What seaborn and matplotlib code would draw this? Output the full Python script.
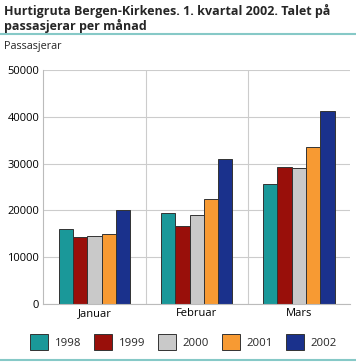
import pandas as pd
import matplotlib.pyplot as plt
import seaborn as sns
from matplotlib.lines import Line2D
from matplotlib.patches import Patch

sns.set_theme(style="white")
plt.rcParams['font.family'] = ['Open Sans', 'DejaVu Sans']

months = ['Januar', 'Februar', 'Mars']
years = ['1998', '1999', '2000', '2001', '2002']
passengers = {
    '1998': [15950, 19400, 25550],
    '1999': [14250, 16600, 29200],
    '2000': [14450, 19100, 29000],
    '2001': [14900, 22450, 33450],
    '2002': [20000, 30950, 41150],
}
colors = ['#1a9899', '#990f0a', '#c9c9c9', '#f79a33', '#1a318c']

rows = []
for y in years:
    for m, v in zip(months, passengers[y]):
        rows.append({'Månad': m, 'År': y, 'Passasjerar': v})
df = pd.DataFrame(rows)

fig = plt.figure(figsize=(3.56, 3.62), dpi=100)
ax = fig.add_axes([0.122, 0.160, 0.861, 0.647])

sns.barplot(data=df, x='Månad', y='Passasjerar', hue='År', palette=colors,
            saturation=1, width=0.7, edgecolor='#333333', linewidth=0.7,
            ax=ax, legend=False)

ax.set_ylim(0, 50000)
ax.set_xlim(-0.5, 2.5)
ax.set_yticks(range(0, 50001, 10000))
ax.set_xticks([0.5, 1.5], minor=True)
ax.grid(axis='y', color='#cccccc', linewidth=0.8)
ax.grid(axis='x', which='minor', color='#cccccc', linewidth=0.8)
ax.set_axisbelow(True)
for s in ['top', 'right']:
    ax.spines[s].set_visible(False)
for s in ['left', 'bottom']:
    ax.spines[s].set_color('#bbbbbb')
    ax.spines[s].set_linewidth(0.8)
ax.tick_params(axis='both', labelsize=8, length=0, pad=3, colors='#000000')
ax.set_xlabel('')
ax.set_ylabel('')

fig.text(0.012, 0.988, 'Hurtigruta Bergen-Kirkenes. 1. kvartal 2002. Talet på\npassasjerar per månad',
         fontsize=9.0, fontweight='bold', va='top', ha='left', linespacing=1.1)
fig.add_artist(Line2D([0, 1], [1 - 33.5 / 362] * 2, color='#86c9c7', linewidth=1.5))
fig.add_artist(Line2D([0, 1], [1 - 360 / 362] * 2, color='#86c9c7', linewidth=1.5))
fig.text(0.012, 1 - 47 / 362, 'Passasjerar', fontsize=7.8, va='center', ha='left')

handles = [Patch(facecolor=c, edgecolor='#333333', linewidth=0.7) for c in colors]
fig.legend(handles, years, loc='center', bbox_to_anchor=(0.515, 1 - 342 / 362), ncol=5,
           frameon=False, fontsize=8.2, handlelength=1.6, handleheight=1.7,
           handletextpad=0.6, columnspacing=1.1)

fig.savefig('out.png', dpi=100)
